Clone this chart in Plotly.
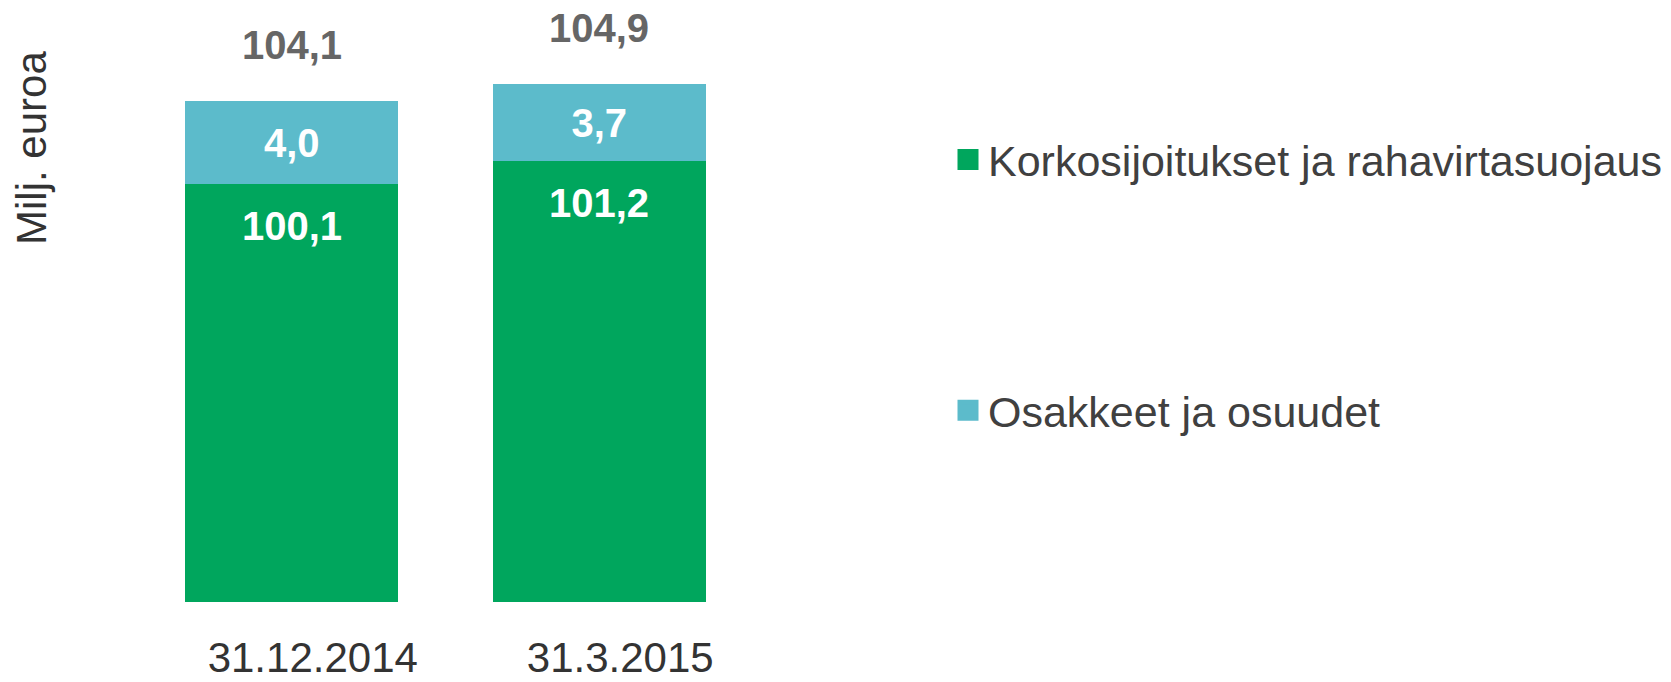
import plotly.graph_objects as go

categories = ["31.12.2014", "31.3.2015"]
korko = [100.1, 101.2]
osakkeet = [4.0, 3.7]
totals = [104.1, 104.9]

series_names = ["Korkosijoitukset ja rahavirtasuojaus", "Osakkeet ja osuudet"]
GREEN = "#00A65D"
CYAN = "#5CBBCB"
FONT = "Liberation Sans, Arial, sans-serif"

W, H = 1671, 682
L, R, T, B = 138, 918, 20, 80


def fmt(v):
    return f"{v:.1f}".replace(".", ",")


fig = go.Figure()

fig.add_trace(go.Bar(
    x=categories,
    y=korko,
    name=series_names[0],
    showlegend=False,
    marker=dict(color=GREEN, line=dict(width=0)),
    hoverinfo="skip",
))

fig.add_trace(go.Bar(
    x=categories,
    y=osakkeet,
    name=series_names[1],
    showlegend=False,
    marker=dict(color=CYAN, line=dict(width=0)),
    texttemplate="%{y:.1f}",
    textposition="inside",
    insidetextanchor="middle",
    textangle=0,
    insidetextfont=dict(family=FONT, size=40, color="white", weight="bold"),
    hoverinfo="skip",
))

# legend entries with larger square swatches
for i, (name, col) in enumerate(zip(series_names, [GREEN, CYAN])):
    fig.add_trace(go.Scatter(
        x=[None], y=[None], mode="markers", name=name,
        legendgroup=f"g{i}",
        marker=dict(symbol="square", size=16, color=col,
                    line=dict(width=5, color=col)),
        hoverinfo="skip",
    ))

annotations = []
# values inside the green bars, near the top
for c, v in zip(categories, korko):
    annotations.append(dict(
        x=c, y=v, xref="x", yref="y", text=fmt(v), showarrow=False,
        yanchor="middle", yshift=-42,
        font=dict(family=FONT, size=40, color="white", weight="bold"),
    ))
# totals above bars
for c, v in zip(categories, totals):
    annotations.append(dict(
        x=c, y=v, xref="x", yref="y", text=fmt(v), showarrow=False,
        yanchor="middle", yshift=56,
        font=dict(family=FONT, size=40, color="#666666", weight="bold"),
    ))
# y axis title
pw = W - L - R
ph = H - T - B
annotations.append(dict(
    x=(31 - L) / pw, y=(H - B - 148) / ph, xref="paper", yref="paper",
    text="Milj. euroa", showarrow=False, textangle=-90,
    xanchor="center", yanchor="middle",
    font=dict(family=FONT, size=42, color="#333333"),
))

fig.update_layout(
    width=W,
    height=H,
    margin=dict(l=L, r=R, t=T, b=B, autoexpand=False),
    plot_bgcolor="white",
    paper_bgcolor="white",
    barmode="stack",
    bargap=0.307,
    separators=",.",
    font=dict(family=FONT, size=43, color="#404040"),
    annotations=annotations,
    showlegend=True,
    legend=dict(
        xref="container", yref="container",
        x=948 / W, y=1 - 125 / H,
        xanchor="left", yanchor="top",
        traceorder="grouped",
        tracegroupgap=192,
        itemsizing="trace",
        font=dict(family=FONT, size=43, color="#404040"),
        bgcolor="rgba(0,0,0,0)",
    ),
    xaxis=dict(
        showline=False, showgrid=False, zeroline=False, ticks="",
        automargin=False,
        tickfont=dict(family=FONT, size=42, color="#333333"),
        ticklabelstandoff=27, ticklabelshift=21,
    ),
    yaxis=dict(
        range=[80, 108], showticklabels=False, showgrid=False,
        zeroline=False, showline=False, ticks="", automargin=False,
    ),
)

fig.write_html(
    "out.html",
    config={"displayModeBar": False},
    post_script="document.body.style.margin = '0';",
)
